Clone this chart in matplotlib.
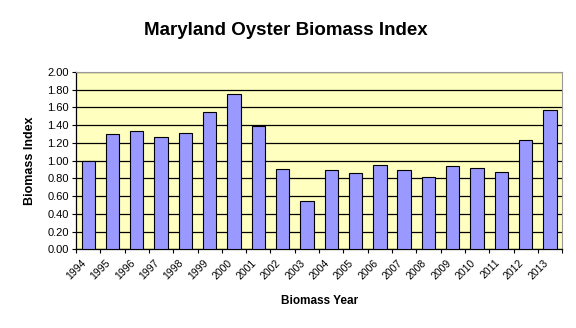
import matplotlib
matplotlib.use("Agg")
import matplotlib.pyplot as plt
import matplotlib.transforms as mtransforms
import numpy as np

plt.rcParams['font.family'] = ['Liberation Sans', 'DejaVu Sans']

years = ['1994', '1995', '1996', '1997', '1998', '1999', '2000', '2001', '2002', '2003',
         '2004', '2005', '2006', '2007', '2008', '2009', '2010', '2011', '2012', '2013']
biomass = [1.00, 1.30, 1.33, 1.26, 1.31, 1.55, 1.75, 1.39, 0.90, 0.54,
           0.89, 0.86, 0.95, 0.89, 0.82, 0.94, 0.92, 0.87, 1.23, 1.57]
yticks = [0.0, 0.2, 0.4, 0.6, 0.8, 1.0, 1.2, 1.4, 1.6, 1.8, 2.0]

fig = plt.figure(figsize=(5.76, 3.28), dpi=100)
ax = fig.add_axes([0.132, 0.24, 0.844, 0.541])
ax.set_facecolor('#FFFFC0')

x = np.arange(len(years))
ax.set_axisbelow(True)
ax.grid(axis='y', color='black', linewidth=0.9)
ax.bar(x, biomass, width=0.55, color='#9999FF', edgecolor='black', linewidth=0.8, zorder=3)

ax.set_xlim(-0.5, len(years) - 0.5)
ax.set_ylim(0, 2.0)
ax.set_yticks(yticks)
ax.set_yticklabels([f"{v:.2f}" for v in yticks], fontsize=8)
ax.set_xticks(x)
ax.set_xticklabels(years, rotation=45, ha='right', rotation_mode='anchor', fontsize=7.5)
ax.tick_params(axis='x', which='major', length=0, pad=6)
ax.set_xticks(np.arange(-0.5, len(years)), minor=True)
ax.tick_params(axis='x', which='minor', length=3, width=0.8)
ax.tick_params(axis='y', length=3, width=0.8, pad=2)

# labels sit a little left of the bar centres
shift = mtransforms.ScaledTranslation(-7 / 100, 0, fig.dpi_scale_trans)
for lab in ax.get_xticklabels():
    lab.set_transform(lab.get_transform() + shift)

for s in ['top', 'right']:
    ax.spines[s].set_color('#999999')
    ax.spines[s].set_linewidth(0.8)
for s in ['left', 'bottom']:
    ax.spines[s].set_color('black')
    ax.spines[s].set_linewidth(0.9)

ax.set_ylabel('Biomass Index', fontsize=9, fontweight='bold', labelpad=8)
ax.set_xlabel('Biomass Year', fontsize=8.5, fontweight='bold', labelpad=10)
fig.text(0.497, 0.908, 'Maryland Oyster Biomass Index', ha='center', va='center',
         fontsize=13.5, fontweight='bold')

fig.savefig('out.png', dpi=100)
